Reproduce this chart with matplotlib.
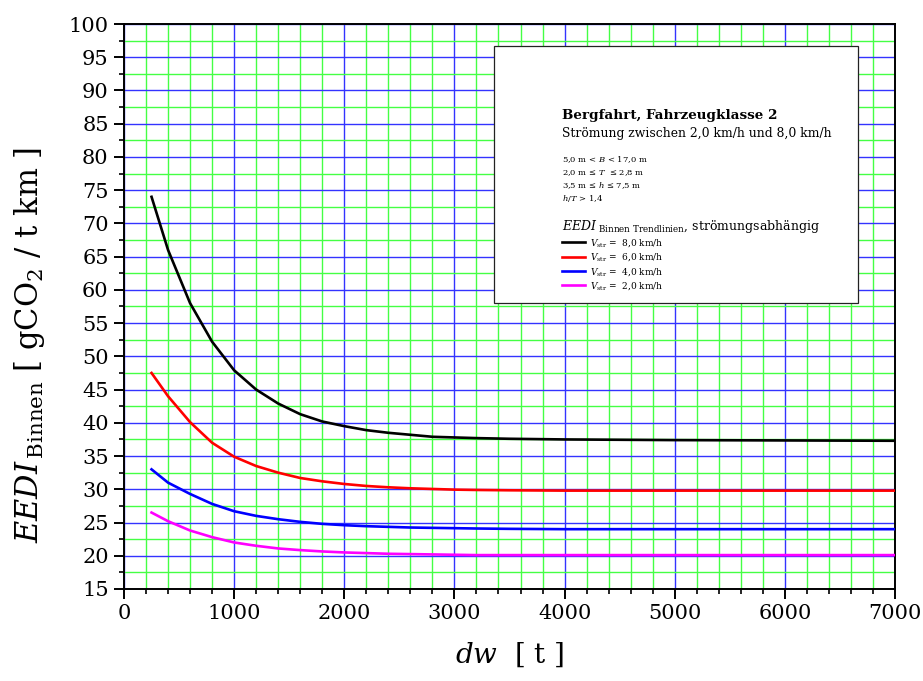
import matplotlib
matplotlib.use("Agg")
import matplotlib.pyplot as plt
from matplotlib.ticker import MultipleLocator
from matplotlib.patches import Rectangle

plt.rcParams['font.family'] = ['DejaVu Serif']
plt.rcParams['mathtext.fontset'] = 'dejavuserif'

# dw [t] stuetzstellen der trendlinien
dw = [250, 400, 600, 800, 1000, 1200, 1400, 1600, 1800, 2000, 2200, 2400,
      2600, 2800, 3000, 3200, 3500, 4000, 4500, 5000, 6000, 7000]

eedi_8 = [74.0, 66.0, 58.0, 52.2, 47.9, 45.0, 42.9, 41.3, 40.2, 39.5, 38.9, 38.5,
          38.2, 37.9, 37.8, 37.7, 37.6, 37.5, 37.45, 37.4, 37.35, 37.3]
eedi_6 = [47.5, 44.0, 40.1, 37.0, 34.9, 33.5, 32.5, 31.7, 31.2, 30.8, 30.5, 30.3,
          30.15, 30.05, 29.95, 29.9, 29.85, 29.8, 29.8, 29.8, 29.8, 29.8]
eedi_4 = [33.0, 31.0, 29.3, 27.8, 26.7, 26.0, 25.5, 25.1, 24.8, 24.6, 24.45, 24.35,
          24.25, 24.2, 24.15, 24.1, 24.05, 24.0, 24.0, 24.0, 24.0, 24.0]
eedi_2 = [26.5, 25.2, 23.8, 22.8, 22.0, 21.5, 21.1, 20.85, 20.65, 20.5, 20.4, 20.3,
          20.25, 20.2, 20.15, 20.1, 20.1, 20.1, 20.1, 20.1, 20.1, 20.1]

labels = ["8,0", "6,0", "4,0", "2,0"]
colors = ["black", "red", "blue", "magenta"]

W, H = 923, 681
fig = plt.figure(figsize=(W / 100, H / 100), dpi=100)
ax = fig.add_axes([124 / W, 1 - 589 / H, 771 / W, 565 / H])

lines = []
for y, lab, c in zip([eedi_8, eedi_6, eedi_4, eedi_2], labels, colors):
    l, = ax.plot(dw, y, color=c, lw=1.9, zorder=3,
                 label=r"$V_{\mathrm{str}}$ =  " + lab + " km/h")
    lines.append(l)

ax.set_xlim(0, 7000)
ax.set_ylim(15, 100)
ax.xaxis.set_major_locator(MultipleLocator(1000))
ax.xaxis.set_minor_locator(MultipleLocator(200))
ax.yaxis.set_major_locator(MultipleLocator(5))
ax.yaxis.set_minor_locator(MultipleLocator(2.5))

ax.grid(which='minor', color='#44ff44', lw=1.0, zorder=1)
ax.grid(which='major', color='#3333ff', lw=1.0, zorder=1.5)
ax.set_axisbelow(True)

ax.tick_params(which='major', direction='out', length=7, width=1.4, labelsize=15, pad=4)
ax.tick_params(which='minor', direction='out', length=3.5, width=1.2)
for s in ax.spines.values():
    s.set_linewidth(1.4)

# y-achse
fig.text(30 / W, 1 - 345 / H,
         r"$\mathit{EEDI}_{\,\mathrm{Binnen}}$ [ gCO$_2$ / t km ]",
         rotation=90, ha='center', va='center', fontsize=22)
fig.text(510 / W, 1 - 655 / H, r"$\mathit{dw}$  [ t ]",
         ha='center', va='center', fontsize=20)

# textkasten
box = Rectangle((494 / W, 1 - 303 / H), 364 / W, 257 / H, transform=fig.transFigure,
                facecolor='white', edgecolor='#222222', lw=0.9, zorder=5)
fig.patches.append(box)

tx = 562 / W
fig.text(tx, 1 - 119 / H, "Bergfahrt, Fahrzeugklasse 2", fontsize=9.7,
         fontweight='bold', va='baseline', zorder=6)
fig.text(tx, 1 - 137 / H, "Strömung zwischen 2,0 km/h und 8,0 km/h", fontsize=8.9,
         va='baseline', zorder=6)
small = [r"5,0 m < $\mathbf{\mathit{B}}$ < 17,0 m",
         r"2,0 m ≤ $\mathbf{\mathit{T}}$  ≤ 2,8 m",
         r"3,5 m ≤ $\mathbf{\mathit{h}}$ ≤ 7,5 m",
         r"$\mathbf{\mathit{h/T}}$ > 1,4"]
for i, s in enumerate(small):
    fig.text(tx, 1 - (162.5 + 12.8 * i) / H, s, fontsize=6, va='baseline', zorder=6)
fig.text(tx, 1 - 230 / H,
         r"$\mathit{EEDI}_{\ \mathrm{Binnen\ Trendlinien}}$, strömungsabhängig",
         fontsize=9, va='baseline', zorder=6)

leg = fig.legend(handles=lines, loc='upper left', bbox_to_anchor=(562 / W, 1 - 237 / H),
                 frameon=False, fontsize=6.5, handlelength=2.55, handletextpad=0.55,
                 labelspacing=0.25, borderpad=0, borderaxespad=0)
leg.set_zorder(7)

fig.savefig("out.png", dpi=100)
